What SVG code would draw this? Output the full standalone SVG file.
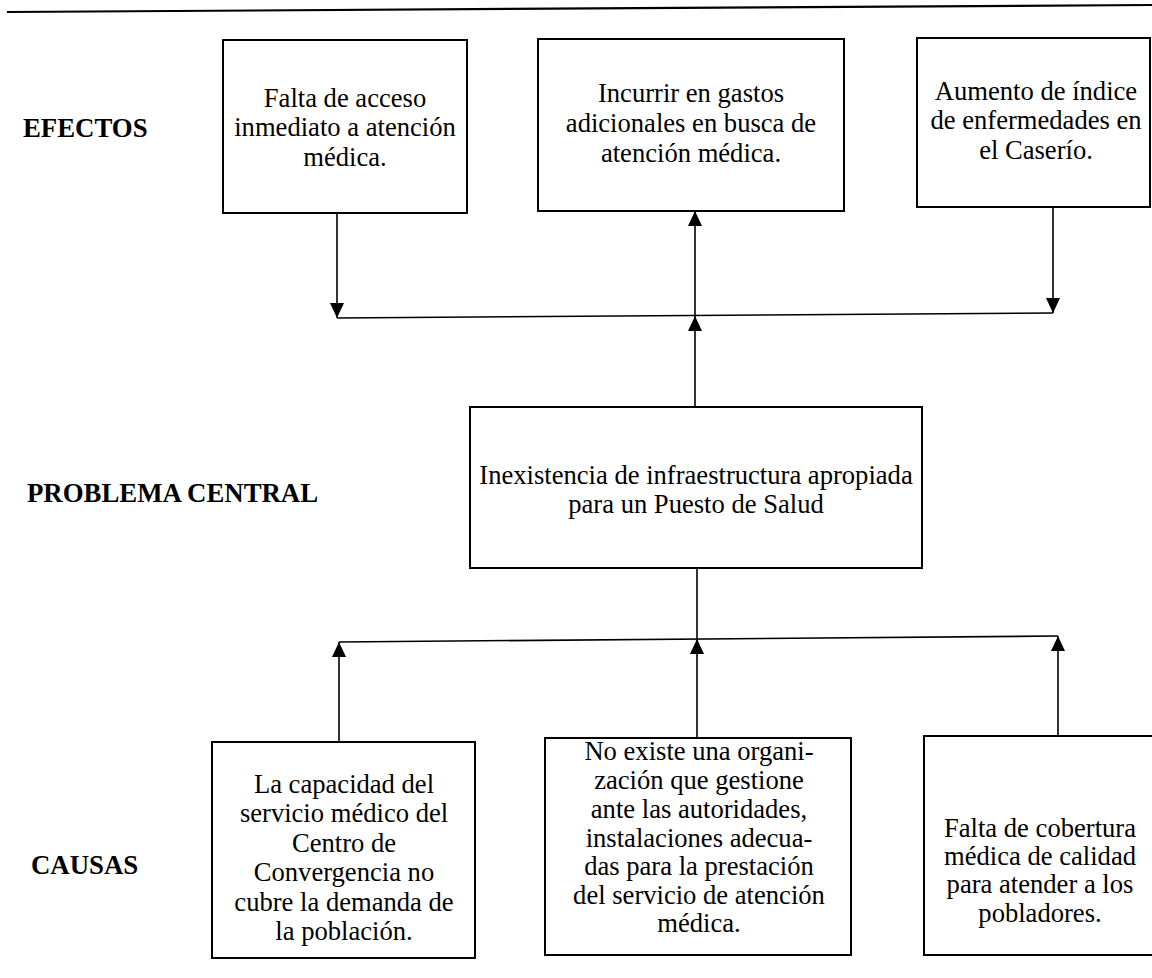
<svg xmlns="http://www.w3.org/2000/svg" width="1152" height="978" viewBox="0 0 1152 978">
<defs>
<style>
.box{fill:#fff;stroke:#000;stroke-width:2}
.t{font-family:"Liberation Serif","DejaVu Serif","Times New Roman",Times,serif;font-size:26.6px;fill:#000;text-anchor:middle}
.lbl{font-family:"Liberation Serif","DejaVu Serif","Times New Roman",Times,serif;font-size:26.8px;font-weight:bold;fill:#000}
.ln{stroke:#000;stroke-width:1.6;fill:none}
</style>
<marker id="ah" viewBox="0 0 15 14" refX="15" refY="7" markerWidth="15" markerHeight="14" markerUnits="userSpaceOnUse" orient="auto"><path d="M0,0 L15,7 L0,14 Z" fill="#000"/></marker>
</defs>
<rect width="1152" height="978" fill="#fff"/>
<line x1="7" y1="12" x2="1152" y2="5" stroke="#000" stroke-width="2.2"/>

<g id="labels">
<text class="lbl" x="23" y="137">EFECTOS</text>
<text class="lbl" x="27" y="502">PROBLEMA CENTRAL</text>
<text class="lbl" x="31" y="874">CAUSAS</text>
</g>

<g id="connectors">
<line class="ln" x1="337" y1="213" x2="337" y2="318" marker-end="url(#ah)"/>
<line class="ln" x1="337" y1="318" x2="1053" y2="313"/>
<line class="ln" x1="1053" y1="207" x2="1053" y2="313" marker-end="url(#ah)"/>
<line class="ln" x1="695" y1="407" x2="695" y2="316" marker-end="url(#ah)"/>
<line class="ln" x1="695" y1="316" x2="695" y2="211" marker-end="url(#ah)"/>
<line class="ln" x1="697" y1="568" x2="697" y2="639"/>
<line class="ln" x1="339" y1="642" x2="1058" y2="636"/>
<line class="ln" x1="339" y1="742" x2="339" y2="642" marker-end="url(#ah)"/>
<line class="ln" x1="697" y1="738" x2="697" y2="639" marker-end="url(#ah)"/>
<line class="ln" x1="1058" y1="736" x2="1058" y2="636" marker-end="url(#ah)"/>
</g>

<g id="efecto1">
<rect class="box" x="223" y="40" width="244" height="173"/>
<text class="t" x="345" y="107">Falta de acceso</text>
<text class="t" x="345" y="136">inmediato a atención</text>
<text class="t" x="345" y="166">médica.</text>
</g>
<g id="efecto2">
<rect class="box" x="538" y="39" width="306" height="172"/>
<text class="t" x="691" y="102">Incurrir en gastos</text>
<text class="t" x="691" y="132">adicionales en busca de</text>
<text class="t" x="691" y="162">atención médica.</text>
</g>
<g id="efecto3">
<rect class="box" x="917" y="38" width="233" height="169"/>
<text class="t" x="1036" y="100">Aumento de índice</text>
<text class="t" x="1036" y="129">de enfermedades en</text>
<text class="t" x="1036" y="159">el Caserío.</text>
</g>
<g id="problema">
<rect class="box" x="470" y="407" width="452" height="161"/>
<text class="t" x="696" y="484">Inexistencia de infraestructura apropiada</text>
<text class="t" x="696" y="513">para un Puesto de Salud</text>
</g>
<g id="causa1">
<rect class="box" x="212" y="742" width="263" height="216"/>
<text class="t" x="344" y="793">La capacidad del</text>
<text class="t" x="344" y="822">servicio médico del</text>
<text class="t" x="344" y="852">Centro de</text>
<text class="t" x="344" y="881">Convergencia no</text>
<text class="t" x="344" y="911">cubre la demanda de</text>
<text class="t" x="344" y="940">la población.</text>
</g>
<g id="causa2">
<rect class="box" x="545" y="738" width="306" height="217"/>
<text class="t" x="699" y="760">No existe una organi-</text>
<text class="t" x="699" y="789">zación que gestione</text>
<text class="t" x="699" y="818">ante las autoridades,</text>
<text class="t" x="699" y="847">instalaciones adecua-</text>
<text class="t" x="699" y="875">das para la prestación</text>
<text class="t" x="699" y="904">del servicio de atención</text>
<text class="t" x="699" y="932">médica.</text>
</g>
<g id="causa3">
<rect class="box" x="924" y="736" width="240" height="219"/>
<text class="t" x="1040" y="837">Falta de cobertura</text>
<text class="t" x="1040" y="865">médica de calidad</text>
<text class="t" x="1040" y="893">para atender a los</text>
<text class="t" x="1040" y="922">pobladores.</text>
</g>
</svg>
